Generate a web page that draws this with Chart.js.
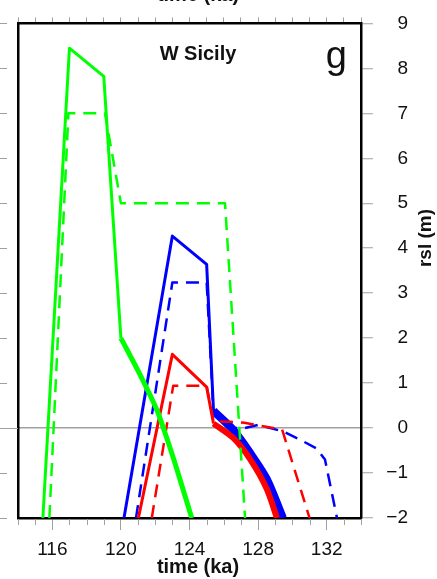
<!DOCTYPE html>
<html>
<head>
<meta charset="utf-8">
<script src="https://cdn.jsdelivr.net/npm/chart.js@4"></script>
<style>
  html, body { margin: 0; padding: 0; background: #fff; }
  canvas { display: block; }
</style>
</head>
<body>
<canvas id="chart" width="437" height="579"></canvas>
<script>
// time (ka) / rsl (m)
const greenSolidTime = [115.45, 117.0, 119.0, 120.0];
const greenSolidRsl  = [-2, 8.45, 7.82, 2.0];
const greenThickTime = [120.0, 121.1, 122.1, 122.7, 123.25, 124.13];
const greenThickRsl  = [2.0, 1.2, 0.4, -0.25, -0.9, -2];
const greenDashTime  = [115.83, 116.94, 119.07, 120.0, 126.07, 127.24];
const greenDashRsl   = [-2, 7.0, 7.0, 5.0, 5.0, -2];

const blueSolidTime = [120.18, 123.0, 125.0, 125.4];
const blueSolidRsl  = [-2, 4.27, 3.64, 0.38];
const blueThickTime = [125.4, 126.55, 127.53, 128.5, 129.45];
const blueThickRsl  = [0.38, -0.04, -0.55, -1.13, -2];
const blueDashTime  = [120.88, 123.0, 125.0, 125.4, 126.3, 127.2, 128.0, 129.5, 130.4, 131.4, 131.9, 132.6];
const blueDashRsl   = [-2, 3.24, 3.24, 0.35, 0.0, 0.0, 0.07, -0.08, -0.25, -0.45, -0.7, -2];

const redSolidTime = [121.02, 123.0, 125.0, 125.4];
const redSolidRsl  = [-2, 1.64, 0.91, 0.1];
const redThickTime = [125.4, 126.55, 127.53, 128.5, 129.1];
const redThickRsl  = [0.1, -0.22, -0.69, -1.35, -2];
const redDashTime  = [121.8, 123.05, 125.0, 125.4, 126.3, 127.2, 128.0, 129.4, 131.0];
const redDashRsl   = [-2, 0.94, 0.94, 0.15, 0.14, 0.12, 0.06, -0.03, -2];

const xTickLabels = [116, 120, 124, 128, 132];
const yTickLabels = [-2, -1, 0, 1, 2, 3, 4, 5, 6, 7, 8, 9];

const GREEN = '#00ff00', BLUE = '#0000ff', RED = '#ff0000';
const tickGray = '#a0a0a0';
const FONT = '"Liberation Sans", Arial, Helvetica, sans-serif';
Chart.defaults.font.family = FONT;

function pts(time, rsl) {
  return time.map((t, i) => ({ x: t, y: rsl[i] }));
}
function line(time, rsl, color, width, dash, tension) {
  return {
    data: pts(time, rsl),
    borderColor: color,
    borderWidth: width,
    borderDash: dash || [],
    pointRadius: 0,
    tension: tension || 0,
    fill: false,
    borderJoinStyle: 'round'
  };
}

// texts, extra ticks from the frame
const decor = {
  id: 'decor',
  afterDraw(chart) {
    const { ctx, chartArea: a, scales } = chart;
    const x = scales.x, y = scales.y;
    ctx.save();
    ctx.strokeStyle = tickGray;
    ctx.lineWidth = 1;
    for (let v = x.min; v <= x.max; v++) {
      if (xTickLabels.includes(v)) continue;
      const px = Math.round(x.getPixelForValue(v)) + 0.5;
      ctx.beginPath();
      ctx.moveTo(px, a.bottom + 1);
      ctx.lineTo(px, a.bottom + 7);
      ctx.stroke();
    }
    yTickLabels.forEach(v => {
      const py = Math.round(y.getPixelForValue(v)) + 0.5;
      ctx.beginPath();
      ctx.moveTo(0, py);
      ctx.lineTo(v === 0 ? a.left : 7, py);
      ctx.stroke();
    });

    ctx.fillStyle = '#111';
    ctx.textAlign = 'center';
    ctx.textBaseline = 'middle';
    ctx.font = 'bold 20px ' + FONT;
    ctx.fillText('W Sicily', 198, 54);

    ctx.textBaseline = 'alphabetic';
    ctx.fillText('time (ka)', 198, 1);
    ctx.fillText('time (ka)', 198, 573);

    ctx.textAlign = 'right';
    ctx.font = '38px ' + FONT;
    ctx.fillText('g', 347, 68);

    ctx.translate(426, 238);
    ctx.rotate(-Math.PI / 2);
    ctx.textAlign = 'center';
    ctx.textBaseline = 'middle';
    ctx.font = 'bold 19px ' + FONT;
    ctx.fillText('rsl (m)', 0, 0);
    ctx.restore();
  }
};

new Chart(document.getElementById('chart'), {
  type: 'line',
  data: {
    datasets: [
      line(greenThickTime, greenThickRsl, GREEN, 5, null, 0.25),
      line(greenSolidTime, greenSolidRsl, GREEN, 3),
      line(greenDashTime, greenDashRsl, GREEN, 2.5, [13, 8]),
      line(redThickTime, redThickRsl, RED, 6, null, 0.25),
      line(redSolidTime, redSolidRsl, RED, 3),
      line(redDashTime, redDashRsl, RED, 2.5, [13, 8]),
      line(blueThickTime, blueThickRsl, BLUE, 8, null, 0.25),
      line(blueSolidTime, blueSolidRsl, BLUE, 3),
      line(blueDashTime, blueDashRsl, BLUE, 2.5, [13, 8])
    ]
  },
  options: {
    responsive: false,
    animation: false,
    devicePixelRatio: 1,
    layout: { padding: { left: 18, top: 0, right: 29, bottom: 0 } },
    plugins: { legend: { display: false }, tooltip: { enabled: false } },
    scales: {
      x: {
        type: 'linear',
        position: 'bottom',
        min: 114,
        max: 134,
        afterBuildTicks: axis => { axis.ticks = xTickLabels.map(v => ({ value: v })); },
        afterFit: axis => { axis.height = 61; },
        grid: { drawOnChartArea: false, tickLength: 12, tickColor: tickGray, tickWidth: 1 },
        border: { color: '#000', width: 2.5 },
        ticks: { font: { size: 19 }, color: '#111', padding: 8, maxRotation: 0, autoSkip: false }
      },
      xt: {
        type: 'linear',
        position: 'top',
        min: 114,
        max: 134,
        afterFit: axis => { axis.height = 16; },
        grid: { drawOnChartArea: false, tickLength: 6, tickColor: tickGray, tickWidth: 1 },
        border: { color: '#000', width: 2.5 },
        ticks: { display: false, stepSize: 1 }
      },
      y: {
        type: 'linear',
        position: 'right',
        min: -2,
        max: 9,
        afterBuildTicks: axis => { axis.ticks = yTickLabels.map(v => ({ value: v })); },
        afterFit: axis => { axis.width = 47; },
        grid: {
          drawOnChartArea: true,
          color: c => (c.tick && c.tick.value === 0 ? tickGray : 'rgba(0,0,0,0)'),
          lineWidth: 1.5,
          tickLength: 12,
          tickColor: tickGray,
          tickWidth: 1
        },
        border: { color: '#000', width: 2.5 },
        ticks: {
          font: { size: 19 },
          color: '#111',
          padding: 12,
          crossAlign: 'far',
          callback: v => String(v).replace('-', '\u2212')
        }
      },
      yl: {
        type: 'linear',
        position: 'left',
        min: -2,
        max: 9,
        afterFit: axis => { axis.width = 0; },
        grid: { drawOnChartArea: false, drawTicks: false },
        border: { color: '#000', width: 2.5 },
        ticks: { display: false }
      }
    }
  },
  plugins: [decor]
});
</script>
</body>
</html>
